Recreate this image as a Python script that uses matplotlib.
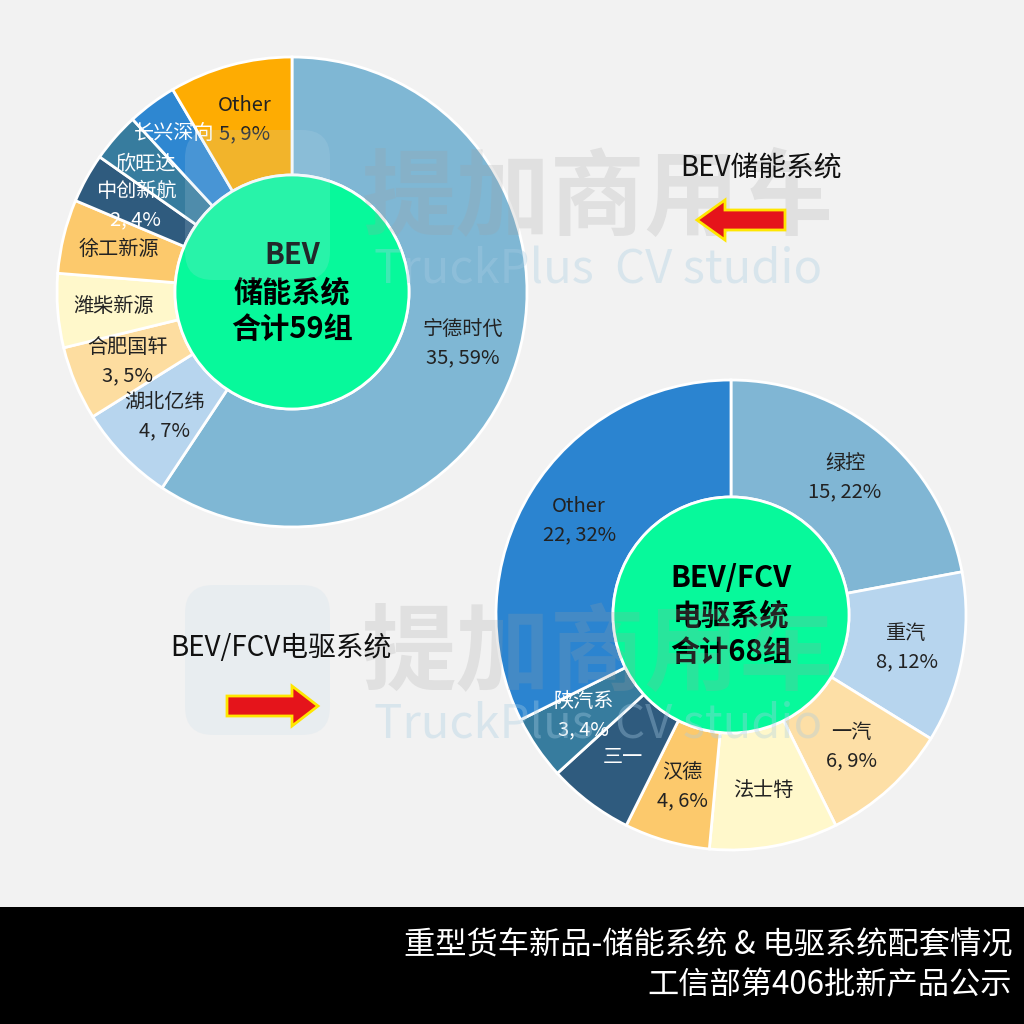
import numpy as np
import matplotlib
matplotlib.use("Agg")
import matplotlib.pyplot as plt
from matplotlib.patches import Circle, Rectangle, FancyArrow, FancyBboxPatch

plt.rcParams['font.family'] = ['Noto Sans CJK SC', 'DejaVu Sans']

# 储能系统 (BEV)
bev_names = ['宁德时代', '湖北亿纬', '合肥国轩', '潍柴新源', '徐工新源', '中创新航', '欣旺达', '长兴深向', 'Other']
bev_values = [35, 4, 3, 3, 3, 2, 2, 2, 5]
bev_pct = [59, 7, 5, 5, 5, 4, 4, 4, 9]   # as printed on the chart
bev_show_value = [True, True, True, False, False, True, False, False, True]
bev_colors = ['#7FB7D4', '#B7D5EE', '#FDDDA0', '#FFF8CB', '#FCC96C', '#2F5B7E', '#377C9E', '#2E87D1', '#FEAC02']
bev_text_colors = ['#222222', '#222222', '#222222', '#222222', '#222222', 'white', 'white', 'white', '#222222']

# 电驱系统 (BEV/FCV)
fcv_names = ['绿控', '重汽', '一汽', '法士特', '汉德', '三一', '陕汽系', 'Other']
fcv_values = [15, 8, 6, 6, 4, 4, 3, 22]
fcv_pct = [22, 12, 9, 9, 6, 6, 4, 32]
fcv_show_value = [True, True, True, False, True, False, True, True]
fcv_colors = ['#80B6D4', '#B7D5EE', '#FDDFA6', '#FFF8CB', '#FCC96C', '#2F5B7E', '#377C9E', '#2B84D0']
fcv_text_colors = ['#222222', '#222222', '#222222', '#222222', '#222222', 'white', 'white', '#222222']

# labels pushed further out so the thin slices don't collide
label_r = {'长兴深向': 0.84, '欣旺达': 0.83}

fig = plt.figure(figsize=(10.24, 10.24), dpi=100)
fig.patch.set_facecolor('#F2F2F2')
ax = fig.add_axes([0, 0, 1, 1])
ax.set_facecolor('#F2F2F2')


def donut(cx, cy, R, r_in, names, values, pct, show_value, colors, tcolors, center_text):
    ax.pie(values, colors=colors, startangle=90, counterclock=False,
           center=(cx, cy), radius=R,
           wedgeprops=dict(width=R - r_in, edgecolor='white', linewidth=2))
    total = sum(values)
    ang = 90.0
    for n, v, p, sv, tc in zip(names, values, pct, show_value, tcolors):
        span = v / total * 360
        mid = np.deg2rad(ang - span / 2)
        ang -= span
        rr = label_r.get(n, 0.76) * R
        x, y = cx + rr * np.cos(mid), cy + rr * np.sin(mid)
        txt = n + (f'\n{v}, {p}%' if sv else '')
        ax.text(x, y, txt, ha='center', va='center', fontsize=14.5, color=tc,
                linespacing=1.45, zorder=5)
    ax.add_patch(Circle((cx, cy), r_in, facecolor='#07F99B', edgecolor='white',
                        linewidth=2, zorder=4))
    ax.text(cx, cy, center_text, ha='center', va='center', fontsize=21,
            fontweight='bold', color='black', linespacing=1.3, zorder=6)


donut(292, 1024 - 292, 235, 117, bev_names, bev_values, bev_pct, bev_show_value,
      bev_colors, bev_text_colors, 'BEV\n储能系统\n合计59组')
donut(731, 1024 - 615, 235, 118, fcv_names, fcv_values, fcv_pct, fcv_show_value,
      fcv_colors, fcv_text_colors, 'BEV/FCV\n电驱系统\n合计68组')

# watermarks
for wy in (200, 655):
    ax.add_patch(FancyBboxPatch((185, 1024 - wy - 80), 145, 150,
                                boxstyle='round,pad=0,rounding_size=28',
                                facecolor='#BFD9EA', edgecolor='none', alpha=0.18, zorder=7))
    ax.text(598, 1024 - wy, '提加商用车', ha='center', va='center', fontsize=68,
            fontweight='bold', color='#A0A0A0', alpha=0.22, zorder=7)
    ax.text(598, 1024 - wy - 70, 'TruckPlus  CV studio', ha='center', va='center',
            fontsize=34, color='#A9CDE3', alpha=0.35, zorder=7)

# arrows and captions
ax.add_patch(FancyArrow(785, 1024 - 220, -60, 0, width=20, head_width=40,
                        head_length=28, length_includes_head=False,
                        facecolor='#E5141B', edgecolor='#FFE600', linewidth=2, zorder=8))
ax.text(680, 1024 - 168, 'BEV储能系统', ha='left', va='center', fontsize=20,
        color='#111111', zorder=8)
ax.add_patch(FancyArrow(227, 1024 - 706, 65, 0, width=20, head_width=40,
                        head_length=26, length_includes_head=False,
                        facecolor='#E5141B', edgecolor='#FFE600', linewidth=2, zorder=8))
ax.text(170, 1024 - 648, 'BEV/FCV电驱系统', ha='left', va='center', fontsize=20,
        color='#111111', zorder=8)

# bottom banner
ax.add_patch(Rectangle((0, 0), 1024, 117, facecolor='black', edgecolor='none', zorder=9))
ax.text(1012, 1024 - 945, '重型货车新品-储能系统 & 电驱系统配套情况', ha='right', va='center',
        fontsize=22.5, color='white', zorder=10)
ax.text(1012, 1024 - 985, '工信部第406批新产品公示', ha='right', va='center',
        fontsize=22.5, color='white', zorder=10)

ax.set_xlim(0, 1024)
ax.set_ylim(0, 1024)
ax.set_aspect('equal')
ax.axis('off')

plt.savefig('out.png', dpi=100, facecolor=fig.get_facecolor())
